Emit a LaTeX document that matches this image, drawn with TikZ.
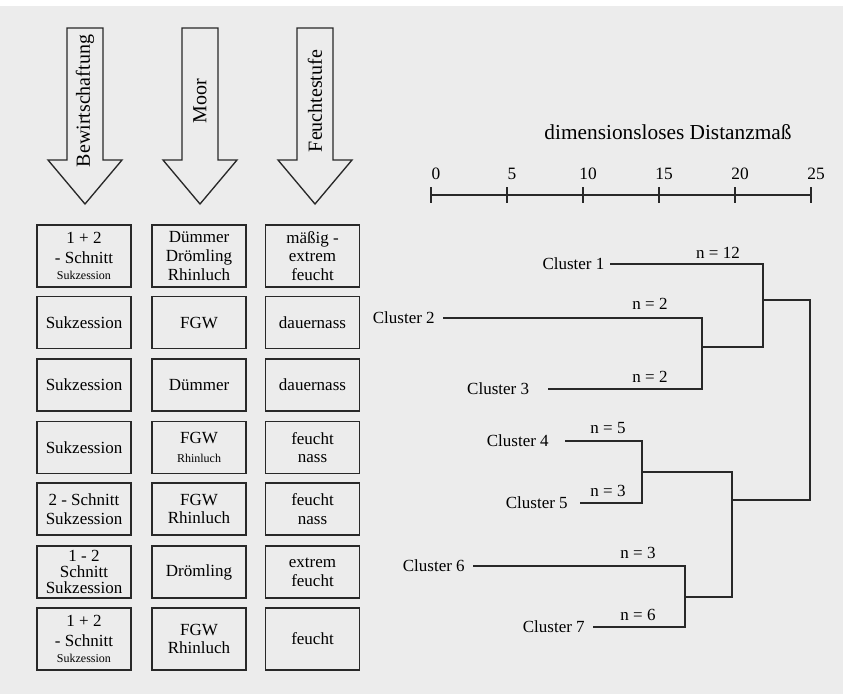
\documentclass[tikz,border=0pt]{standalone}
\usepackage{fontspec}
\setmainfont{Liberation Serif}
\usetikzlibrary{positioning}
\definecolor{scan}{RGB}{236,236,236}
\definecolor{ink}{RGB}{40,40,40}
\newcommand{\smalltxt}{\fontsize{9}{10.5}\selectfont}
\begin{document}
\begin{tikzpicture}[x=0.75pt,y=-0.75pt,
    box/.style={draw=ink,line width=0.9pt,minimum width=70.5pt,minimum height=39pt,
      inner sep=1pt,align=center,font=\fontsize{12.75}{14}\selectfont},
    tall/.style={box,minimum height=46.5pt},
    arrowlab/.style={rotate=90,font=\fontsize{15}{15}\selectfont},
    clu/.style={inner sep=0pt,font=\fontsize{12.75}{14}\selectfont},
    cnt/.style={inner sep=0pt,font=\fontsize{12.75}{14}\selectfont},
    tree/.style={ink,line width=0.8pt}]
    \useasboundingbox (0,0) rectangle (843,694);
    \fill[scan] (0,6) rectangle (843,694);
    %\draw[loosely dotted] (0,0) grid[step=50] (843,694);

    % the three arrows
    \foreach \cx/\lab/\nm in {85/Bewirtschaftung/arrMgmt, 200/Moor/arrMoor, 315/Feuchtestufe/arrWet}
    {
    \draw[ink,line width=1pt] ({\cx-18},28) -- ({\cx+18},28) -- ({\cx+18},160) -- ({\cx+37},160)
        -- (\cx,204) -- ({\cx-37},160) -- ({\cx-18},160) -- cycle;
    \node[arrowlab] (\nm) at (\cx,101) {\lab};
    }

    % Bewirtschaftung
    \node[tall] (mgmt1) at (84,256) {1 + 2\\[1pt]- Schnitt\\[-2pt]{\smalltxt Sukzession}};
    \node[box] (mgmt2) at (84,322.5) {Sukzession};
    \node[box] (mgmt3) at (84,385) {Sukzession};
    \node[box] (mgmt4) at (84,447.5) {Sukzession};
    \node[box] (mgmt5) at (84,509) {2 - Schnitt\\Sukzession};
    \node[box] (mgmt6) at (84,572) {1 - 2\\[-2pt]Schnitt\\[-2pt]Sukzession};
    \node[tall] (mgmt7) at (84,639) {1 + 2\\[1pt]- Schnitt\\[-2pt]{\smalltxt Sukzession}};
    % Moor
    \node[tall] (moor1) at (199,256) {Dümmer\\Drömling\\Rhinluch};
    \node[box] (moor2) at (199,322.5) {FGW};
    \node[box] (moor3) at (199,385) {Dümmer};
    \node[box] (moor4) at (199,447.5) {FGW\\{\smalltxt Rhinluch}};
    \node[box] (moor5) at (199,509) {FGW\\Rhinluch};
    \node[box] (moor6) at (199,572) {Drömling};
    \node[tall] (moor7) at (199,639) {FGW\\Rhinluch};
    % Feuchtestufe
    \node[tall] (wet1) at (312.5,256) {mäßig -\\extrem\\feucht};
    \node[box] (wet2) at (312.5,322.5) {dauernass};
    \node[box] (wet3) at (312.5,385) {dauernass};
    \node[box] (wet4) at (312.5,447.5) {feucht\\nass};
    \node[box] (wet5) at (312.5,509) {feucht\\nass};
    \node[box] (wet6) at (312.5,572) {extrem\\feucht};
    \node[tall] (wet7) at (312.5,639) {feucht};

    % scale
    \node[font=\fontsize{16}{16}\selectfont] (title) at (668,132) {dimensionsloses Distanzmaß};
    \draw[tree] (431,195) -- (811,195);
    \foreach \v [count=\i from 0] in {0,5,...,25}
    {
    \draw[tree] ({431+76*\i},187) -- ({431+76*\i},203);
    \node[cnt,font=\fontsize{13}{13}\selectfont] (tick\v) at ({436+76*\i},174) {\v};
    }

    % leaves
    \coordinate (l1) at (610,264);
    \coordinate (l2) at (443,318);
    \coordinate (l3) at (548,389);
    \coordinate (l4) at (565,441);
    \coordinate (l5) at (580,503);
    \coordinate (l6) at (473,566);
    \coordinate (l7) at (593,627);
    \node[clu,left=4pt of l1] (c1) {Cluster 1};
    \node[clu,left=6pt of l2] (c2) {Cluster 2};
    \node[clu,left=14pt of l3] (c3) {Cluster 3};
    \node[clu,left=12pt of l4] (c4) {Cluster 4};
    \node[clu,left=9pt of l5] (c5) {Cluster 5};
    \node[clu,left=6pt of l6] (c6) {Cluster 6};
    \node[clu,left=6pt of l7] (c7) {Cluster 7};

    % joins
    \coordinate (k23) at (702,347);
    \coordinate (k123) at (763,300);
    \coordinate (k45) at (642,472);
    \coordinate (k67) at (685,597);
    \coordinate (k4567) at (732,500);
    \coordinate (kroot) at (810,400);
    \draw[tree] (l1) -| (k123);
    \draw[tree] (l2) -| (k23);
    \draw[tree] (l3) -| (k23);
    \draw[tree] (k23) -| (k123);
    \draw[tree] (l4) -| (k45);
    \draw[tree] (l5) -| (k45);
    \draw[tree] (l6) -| (k67);
    \draw[tree] (l7) -| (k67);
    \draw[tree] (k45) -| (k4567);
    \draw[tree] (k67) -| (k4567);
    \draw[tree] (k123) -| (kroot);
    \draw[tree] (k4567) -| (kroot);

    % group sizes
    \node[cnt] (n1) at (718,253) {n = 12};
    \node[cnt] (n2) at (650,304) {n = 2};
    \node[cnt] (n3) at (650,377) {n = 2};
    \node[cnt] (n4) at (608,428) {n = 5};
    \node[cnt] (n5) at (608,491) {n = 3};
    \node[cnt] (n6) at (638,553) {n = 3};
    \node[cnt] (n7) at (638,615) {n = 6};
    %\draw[red] (n1) -- (n7);
\end{tikzpicture}
\end{document}
